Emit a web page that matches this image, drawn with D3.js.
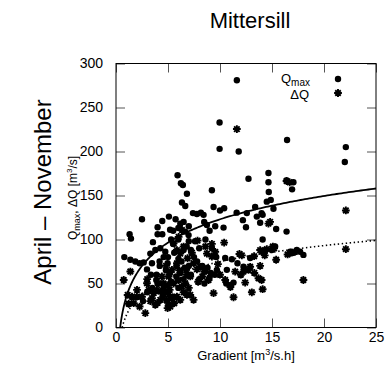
<!DOCTYPE html>
<html><head><meta charset="utf-8">
<script src="https://cdn.jsdelivr.net/npm/d3@7"></script>
<style>body{margin:0;background:#fff}svg{font-family:"Liberation Sans",Arial,sans-serif}</style>
</head><body><div id="chart"></div>
<script>
const title = "Mittersill";
const sideLabel = "April \u2013 November";
const xTicks = [0, 5, 10, 15, 20, 25];
const yTicks = [0, 50, 100, 150, 200, 250, 300];
// log fit coefficients y = a + b*ln(x)
const qmaxFit = [35, 38.2];
const dqFit = [14, 26.4];

const qmaxPoints = [
[11.62,281],[9.96,233],[9.96,203],[11.8,200],[16.45,213],[22.1,205],[22.0,188],
[5.92,173],[6.24,164],[6.43,162],[6.34,142],[6.82,152],[6.66,138],[9.22,156],
[12.74,169],[14.66,175.5],[14.66,165],[17.06,165],[16.93,157],[16.4,167],
[2.5,123],[5.09,126],[4.45,121],[5.73,123],[6.18,118],[6.5,120],[4.0,114],[4.0,106],
[4.45,106],[5.2,111],[5.5,110],[6.0,113],[6.66,109],[6.98,105],[3.55,97],[1.31,106],
[1.44,101],[0.8,80],[1.38,77],[1.86,75],[2.27,73],[2.66,74],[3.3,84],[3.46,73],
[3.78,88],[4.26,90],[4.74,86],[4.58,80],[4.19,75],[4.96,73],[2.98,66],[3.36,60],
[3.87,54],[7.4,130],[7.78,129],[8.16,130.5],[8.42,128],[8.48,120],[8.74,116.5],
[9.38,137],[9.54,115],[10.0,133],[10.4,135.5],[10.34,113.5],[11.6,130.5],[12.2,122],
[12.5,114],[12.58,130],[13.38,137],[13.54,126],[14.0,130],[13.86,119],[14.1,128],
[14.5,143],[14.88,145],[14.69,154],[15.14,135],[15.4,112],[16.4,109],[14.1,100],
[11.14,77.6],[10.5,79],[9.22,90],[9.64,80],[18.02,82.5],[8.58,63.6],[9.12,62],
[9.7,65.5],[10.66,65.5],[10.6,50],[11.04,48.4],[11.3,51],[11.68,73],[12.26,69],
[12.9,79],[14.0,86],[14.34,88],[14.98,88],[15.3,92],[16.74,86],[17.38,88],[17.7,86],
[5.5,95],[6.0,100],[6.5,88],[7.0,98],[5.0,80],[5.8,70],[6.2,62],[4.8,65],[4.2,70],
[3.9,60],[3.5,45],[4.6,45],[5.3,52],[6.0,45],[5.0,40],[5.5,35],[4.5,35],[6.5,55],
[7.2,60],[7.5,80],[8.0,55],[8.5,50],[9.0,57],[6.0,78],[6.8,92],[7.2,88],[7.8,75],
[8.3,70],[8.8,68],[9.5,60],[5.2,62],[5.6,85],[6.3,75],[7.0,70],[4.0,50],[3.0,40],
[2.6,30],[5.8,58],[6.6,68],[7.6,98],[8.0,90],[8.6,100],[9.0,110],[7.0,115],[5.3,100]
];

const dqPoints = [
[11.62,225.5],[16.4,166.5],[16.7,165],[22.1,133],[22.1,89],[18.02,54],[15.4,77],
[14.82,120],[14.66,118],[15.08,92],[14.5,89],[13.86,88],[14.0,54],[13.7,56],
[14.1,43.5],[13.86,70],[13.06,40],[12.42,51],[13.28,81],[12.9,69],[12.74,65.5],
[12.26,63.5],[11.87,83.6],[11.46,63.5],[11.3,34.4],[10.4,96.5],[10.5,54],[9.38,39],
[9.22,95],[9.54,86],[9.22,80.6],[7.84,98.8],[8.74,84],[8.9,54],[8.48,63.6],[8.1,69],
[7.46,31.4],[7.14,37],[6.82,37],[2.82,16.3],[0.74,54],[1.38,63.6],[1.12,37],[1.54,35],
[1.22,27],[1.7,27.6],[2.02,42.8],[2.27,23.8],[2.5,35],[2.98,50.3],[3.46,33.3],
[3.78,25.7],[4.26,31.4],[4.96,22],[5.22,23.8],[5.86,35],[5.6,27.6],[4.58,50],
[5.06,58],[4.42,58],[5.38,65.5],[5.86,73],[6.18,84],[6.5,92],[5.86,88],[5.54,95.7],
[6.34,110.8],[6.02,103],[6.88,78.7],[7.14,58],[6.66,50.3],[6.34,46.5],[3.94,42.8],
[4.1,50.3],[3.14,42.8],[3.62,39],[4.26,40.9],[4.74,39],[5.16,42.8],[4.84,31.4],
[5.38,33.3],[6.18,31.4],[5.22,35],[5.54,50],[6.02,54],[6.75,65.5],[7.46,73],[7.78,66],
[12.1,82],[15.2,90],[16.9,85],[17.2,86],[16.5,83],[10.0,60],[9.8,72],[8.3,58],
[7.0,45],[6.5,40],[5.0,28],[4.0,28],[3.3,30],[2.0,35],[3.0,55],[4.8,70],[5.0,48],
[6.8,60],[7.9,52],[11.0,46],[12.0,60],[13.3,62],[14.3,82],[8.6,92],[7.3,85],[6.1,65]
];

const W = 385, H = 365;
const svg = d3.select("#chart").append("svg").attr("width", W).attr("height", H);
const x = d3.scaleLinear().domain([0, 25]).range([116, 376]);
const y = d3.scaleLinear().domain([0, 300]).range([327.5, 63.5]);

svg.append("text").attr("x", 250).attr("y", 28).attr("text-anchor", "middle")
  .attr("font-size", 22).text(title);
svg.append("text").attr("transform", "translate(51,192) rotate(-90)")
  .attr("text-anchor", "middle").attr("font-size", 24).text(sideLabel);

// y label
const yl = svg.append("text").attr("transform", "translate(77,198) rotate(-90)")
  .attr("text-anchor", "middle").attr("font-size", 12);
yl.append("tspan").text("Q");
yl.append("tspan").attr("font-size", 9).attr("dy", 3).text("max");
yl.append("tspan").attr("dy", -3).text(", \u0394Q [m");
yl.append("tspan").attr("font-size", 8).attr("dy", -5).text("3");
yl.append("tspan").attr("dy", 5).text("/s]");

// x label
const xl = svg.append("text").attr("x", 246).attr("y", 360).attr("text-anchor", "middle")
  .attr("font-size", 13);
xl.append("tspan").text("Gradient [m");
xl.append("tspan").attr("font-size", 9).attr("dy", -5).text("3");
xl.append("tspan").attr("dy", 5).text("/s.h]");

// clip
svg.append("clipPath").attr("id", "clip").append("rect")
  .attr("x", 116).attr("y", 63.5).attr("width", 260).attr("height", 264);

// axes with inward ticks
const tickLen = 9;
svg.append("g").attr("transform", "translate(0,327.5)")
  .call(d3.axisBottom(x).tickValues(xTicks).tickSize(-tickLen).tickPadding(5).tickFormat(d3.format("d")))
  .call(g => g.select(".domain").remove());
svg.append("g").attr("transform", "translate(0,63.5)")
  .call(d3.axisTop(x).tickValues(xTicks).tickSize(-tickLen).tickFormat(""))
  .call(g => g.select(".domain").remove());
svg.append("g").attr("transform", "translate(116,0)")
  .call(d3.axisLeft(y).tickValues(yTicks).tickSize(-tickLen).tickPadding(13).tickFormat(d3.format("d")))
  .call(g => g.select(".domain").remove());
svg.append("g").attr("transform", "translate(376,0)")
  .call(d3.axisRight(y).tickValues(yTicks).tickSize(-tickLen).tickFormat(""))
  .call(g => g.select(".domain").remove());
svg.selectAll(".tick line").attr("stroke", "#555");
svg.selectAll(".tick text").attr("font-size", 14).attr("fill", "#000")
  .attr("font-family", "Liberation Sans, Arial, sans-serif");

svg.append("rect").attr("x", 116).attr("y", 63.5).attr("width", 260).attr("height", 264)
  .attr("fill", "none").attr("stroke", "#000").attr("stroke-width", 1);

// markers
const plot = svg.append("g").attr("clip-path", "url(#clip)");
function star(g, cx, cy) {
  const r = 3.9;
  const p = d3.path();
  for (let k = 0; k < 4; k++) {
    const a = k * Math.PI / 4;
    p.moveTo(cx - r * Math.cos(a), cy - r * Math.sin(a));
    p.lineTo(cx + r * Math.cos(a), cy + r * Math.sin(a));
  }
  g.append("path").attr("d", p.toString()).attr("stroke", "#000").attr("stroke-width", 1.9)
    .attr("fill", "none");
  g.append("circle").attr("cx", cx).attr("cy", cy).attr("r", 2.2).attr("fill", "#000");
}
plot.selectAll("circle.q").data(qmaxPoints).join("circle").attr("class", "q")
  .attr("cx", d => x(d[0])).attr("cy", d => y(d[1])).attr("r", 3.2).attr("fill", "#000");
const sg = plot.append("g");
dqPoints.forEach(d => star(sg, x(d[0]), y(d[1])));

// fit curves
function fitLine(c) {
  const x0 = Math.exp(-c[0] / c[1]);
  return d3.range(0, 201).map(i => {
    const xv = x0 + (25 - x0) * Math.pow(i / 200, 2);
    return [xv, c[0] + c[1] * Math.log(xv)];
  });
}
const line = d3.line().x(d => x(d[0])).y(d => y(d[1]));
plot.append("path").attr("d", line(fitLine(qmaxFit))).attr("fill", "none")
  .attr("stroke", "#000").attr("stroke-width", 1.8);
plot.append("path").attr("d", line(fitLine(dqFit))).attr("fill", "none")
  .attr("stroke", "#000").attr("stroke-width", 1.6).attr("stroke-dasharray", "1.4 2.6");

// legend
const lg1 = svg.append("text").attr("x", 310).attr("y", 83).attr("text-anchor", "end").attr("font-size", 13);
lg1.append("tspan").text("Q");
lg1.append("tspan").attr("font-size", 10).attr("dy", 3).text("max");
svg.append("circle").attr("cx", 338).attr("cy", 79).attr("r", 3.2).attr("fill", "#000");
svg.append("text").attr("x", 309).attr("y", 98.5).attr("text-anchor", "end").attr("font-size", 13)
  .text("\u0394Q");
star(svg.append("g"), 338, 93);
</script></body></html>
